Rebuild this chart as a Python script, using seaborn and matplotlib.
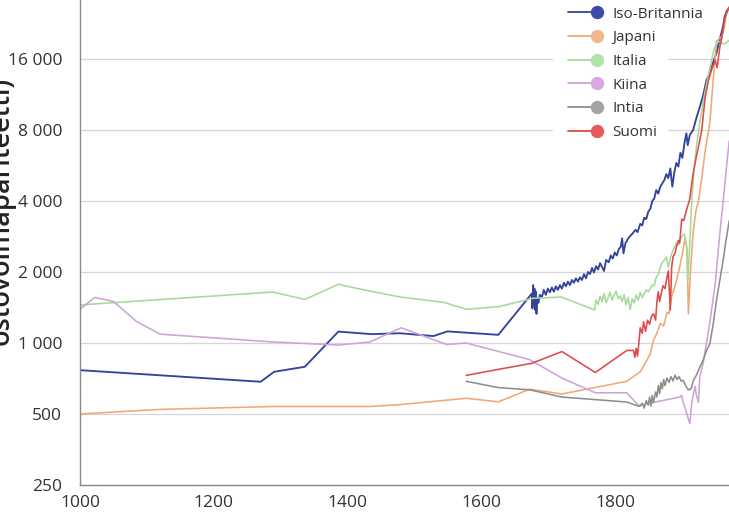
import numpy as np
import pandas as pd
import matplotlib
matplotlib.use("Agg")
import matplotlib.pyplot as plt
from matplotlib.lines import Line2D
from matplotlib.patches import Rectangle
from matplotlib.legend_handler import HandlerLine2D
import seaborn as sns

# ---------------- data ----------------
uk_years = [1000, 1270, 1290, 1336, 1386, 1436, 1478, 1528, 1549, 1625, 1675, 1676, 1677, 1678,
            1679, 1680, 1681, 1682, 1683, 1685, 1687, 1690, 1693, 1696, 1699, 1702, 1705, 1708,
            1711, 1714, 1717, 1720, 1723, 1726, 1729, 1732, 1735, 1738, 1741, 1744, 1747, 1750,
            1753, 1756, 1759, 1762, 1765, 1768, 1771, 1774, 1777, 1780, 1783, 1786, 1790, 1793,
            1796, 1799, 1802, 1805, 1808, 1810, 1812, 1815, 1820, 1825, 1830, 1833, 1837, 1840,
            1843, 1846, 1849, 1852, 1855, 1858, 1861, 1864, 1867, 1870, 1873, 1876, 1879, 1882,
            1885, 1888, 1891, 1894, 1897, 1900, 1903, 1906, 1908, 1911, 1916, 1921, 1926, 1931,
            1936, 1941, 1946, 1951, 1956, 1960, 1963, 1966, 1970]
uk_values = [767, 685, 755, 793, 1118, 1090, 1100, 1070, 1120, 1083, 1620, 1400, 1760, 1450,
             1700, 1380, 1650, 1330, 1550, 1480, 1600, 1560, 1680, 1600, 1700, 1640, 1720, 1650,
             1740, 1680, 1760, 1700, 1800, 1740, 1820, 1760, 1850, 1800, 1880, 1820, 1900, 1850,
             1960, 1880, 2000, 1960, 2080, 1990, 2120, 2050, 2180, 2100, 2020, 2250, 2200, 2350,
             2280, 2420, 2350, 2500, 2560, 2780, 2400, 2650, 2800, 2900, 3020, 2950, 3200, 3150,
             3400, 3350, 3600, 3700, 4000, 4100, 4450, 4300, 4600, 4750, 4900, 5200, 5000, 5500,
             4600, 5300, 5800, 5600, 6400, 6100, 7000, 7750, 6900, 7600, 8000, 9000, 10000, 11200,
             13000, 14000, 15500, 17000, 19500, 21500, 24000, 25500, 26500]

jp_years = [1000, 1120, 1288, 1433, 1478, 1577, 1625, 1672, 1720, 1817, 1837, 1847, 1852, 1857,
            1862, 1867, 1872, 1877, 1880, 1884, 1888, 1892, 1896, 1901, 1904, 1907, 1909, 1912,
            1916, 1920, 1924, 1929, 1934, 1941, 1946, 1951, 1955, 1959, 1963, 1966, 1970]
jp_values = [500, 523, 538, 538, 548, 583, 563, 637, 608, 688, 755, 845, 900, 1030,
             1100, 1210, 1180, 1350, 1330, 1570, 1700, 1880, 2100, 2470, 2800, 2500, 1330, 2000,
             2930, 3600, 4000, 5000, 6500, 8550, 13000, 19000, 19500, 20000, 22000, 25000, 26500]

it_years = [1000, 1288, 1336, 1386, 1418, 1478, 1543, 1577, 1625, 1677, 1719, 1769, 1771, 1774,
            1777, 1780, 1783, 1786, 1789, 1792, 1795, 1798, 1801, 1804, 1807, 1810, 1813, 1816,
            1819, 1822, 1825, 1828, 1831, 1834, 1837, 1840, 1843, 1846, 1849, 1852, 1855, 1858,
            1861, 1864, 1867, 1870, 1873, 1876, 1879, 1882, 1885, 1888, 1891, 1894, 1897, 1900,
            1903, 1905, 1907, 1908, 1910, 1912, 1914, 1917, 1921, 1926, 1931, 1936, 1941, 1946,
            1951, 1956, 1961, 1966, 1970]
it_values = [1450, 1645, 1530, 1774, 1694, 1567, 1488, 1390, 1425, 1547, 1567, 1380, 1520, 1460,
             1580, 1500, 1620, 1480, 1560, 1640, 1520, 1600, 1660, 1540, 1580, 1500, 1600, 1450,
             1560, 1385, 1540, 1480, 1600, 1520, 1640, 1560, 1620, 1680, 1650, 1700, 1760, 1750,
             1900, 1950, 2100, 2200, 2245, 2320, 2100, 2300, 2420, 2550, 2650, 2600, 2750, 2860,
             2900, 2700, 2500, 1850, 2300, 3000, 4000, 5200, 6800, 8600, 10500, 12500, 14500, 17000,
             18800, 19000, 18500, 18800, 19200]

cn_years = [1000, 1022, 1050, 1085, 1120, 1289, 1386, 1433, 1480, 1548, 1577, 1672, 1720, 1770,
            1817, 1834, 1837, 1896, 1899, 1901, 1905, 1911, 1914, 1919, 1921, 1924, 1926, 1931,
            1941, 1949, 1956, 1961, 1966, 1970]
cn_values = [1390, 1560, 1500, 1230, 1090, 1010, 980, 1010, 1160, 985, 1000, 850, 710, 615,
             615, 545, 545, 590, 600, 560, 520, 455, 560, 655, 600, 560, 720, 820,
             1220, 1780, 2920, 4000, 5600, 7200]

in_years = [1577, 1625, 1672, 1720, 1817, 1834, 1837, 1840, 1843, 1846, 1849, 1851, 1853, 1855,
            1857, 1860, 1862, 1864, 1866, 1868, 1870, 1872, 1874, 1877, 1880, 1883, 1886, 1889,
            1892, 1895, 1898, 1901, 1905, 1909, 1913, 1917, 1921, 1926, 1931, 1936, 1941, 1946,
            1951, 1956, 1961, 1965, 1970]
in_values = [688, 647, 633, 590, 562, 540, 540, 555, 530, 570, 545, 590, 540, 600,
             560, 620, 590, 660, 610, 680, 640, 700, 660, 710, 680, 720, 690, 730,
             700, 720, 690, 695, 660, 632, 640, 700, 730, 790, 845, 930, 990, 1200,
             1520, 1850, 2250, 2700, 3300]

fi_years = [1577, 1625, 1675, 1720, 1770, 1817, 1827, 1829, 1831, 1833, 1835, 1837, 1840, 1842,
            1845, 1848, 1851, 1854, 1857, 1860, 1862, 1864, 1866, 1868, 1871, 1874, 1877, 1879,
            1882, 1884, 1886, 1889, 1891, 1894, 1896, 1899, 1902, 1906, 1911, 1916, 1921, 1925,
            1929, 1934, 1939, 1944, 1949, 1952, 1956, 1959, 1963, 1966, 1970]
fi_values = [729, 773, 820, 920, 750, 930, 930, 870, 950, 880, 1000, 1160, 1100, 1230,
             1120, 1250, 1200, 1300, 1330, 1250, 1500, 1650, 1500, 1600, 1750, 1700, 1900, 2020,
             1380, 2100, 2320, 2400, 2550, 2720, 2650, 3350, 3300, 3650, 4070, 5200, 6200, 7000,
             8000, 11000, 13000, 14500, 15800, 14700, 18000, 19700, 23500, 25000, 26500]

countries = ["Iso-Britannia", "Japani", "Italia", "Kiina", "Intia", "Suomi"]
line_colors = ["#34449c", "#f0a877", "#a6da98", "#cfa2d8", "#8e8e8e", "#de4a4a"]
marker_colors = ["#3b4cab", "#f2b58e", "#b4e3aa", "#d7abe2", "#a3a3a3", "#e45a5a"]

y_ticks = [250, 500, 1000, 2000, 4000, 8000, 16000]
y_tick_labels = ["250", "500", "1 000", "2 000", "4 000", "8 000", "16 000"]
x_ticks = [1000, 1200, 1400, 1600, 1800]
y_label = "ostovoimapariteetti)"

# ---------------- build long table ----------------
series = [(uk_years, uk_values), (jp_years, jp_values), (it_years, it_values),
          (cn_years, cn_values), (in_years, in_values), (fi_years, fi_values)]
frames = []
for name, (yrs, vals) in zip(countries, series):
    frames.append(pd.DataFrame({"vuosi": yrs, "bkt": vals, "maa": name}))
df = pd.concat(frames, ignore_index=True)


class EndMarkerHandler(HandlerLine2D):
    """Legend handle: a line with a single marker at its right end."""
    def create_artists(self, legend, orig_handle, xdescent, ydescent, width, height,
                       fontsize, trans):
        artists = super().create_artists(legend, orig_handle, xdescent, ydescent,
                                         width, height, fontsize, trans)
        for a in artists:
            n = len(a.get_xdata())
            a.set_markevery([n - 1])
        return artists


# ---------------- figure ----------------
sns.set_theme(style="white")
plt.rcParams["font.family"] = ["Open Sans", "DejaVu Sans"]

W, H = 729, 531
fig = plt.figure(figsize=(W / 100, H / 100), dpi=100)
ax = fig.add_axes([80 / W, 46 / H, 1 - 80 / W, 1 - 46 / H])

ax.set_yscale("log", base=2)
ax.set_ylim(250, 250 * 2 ** (485 / 71))
ax.set_xlim(1000, 1000 + (729 - 80) / 0.6693)

ax.set_axisbelow(True)
ax.yaxis.grid(True, color="#d6d6d6", linewidth=0.9, zorder=0)
ax.xaxis.grid(False)

palette = dict(zip(countries, line_colors))
sns.lineplot(data=df, x="vuosi", y="bkt", hue="maa", hue_order=countries,
             palette=palette, estimator=None, linewidth=1.15, ax=ax, legend=False)
for l in ax.get_lines():
    if l.get_color() == "#34449c":
        l.set_linewidth(1.35)

ax.set_yticks(y_ticks)
ax.set_yticklabels(y_tick_labels)
ax.yaxis.set_minor_locator(matplotlib.ticker.NullLocator())
ax.set_xticks(x_ticks)
ax.set_xticklabels([str(v) for v in x_ticks])
ax.set_xlabel("")
ax.set_ylabel("")

for s in ["top", "right"]:
    ax.spines[s].set_visible(False)
for s in ["left", "bottom"]:
    ax.spines[s].set_color("#8a8a8a")
    ax.spines[s].set_linewidth(1.0)
ax.tick_params(axis="both", which="major", length=4.3, width=0.9, color="#8a8a8a",
               labelsize=12.5, labelcolor="#333333", pad=3)
ax.tick_params(axis="y", pad=8.5)

# white background behind the legend (hides gridlines there)
ax.add_patch(Rectangle((553 / W, 1 - 142 / H), (668 - 553) / W, 142 / H,
                       transform=fig.transFigure, facecolor="white", edgecolor="none",
                       zorder=1))

handles = []
for lc, mc in zip(line_colors, marker_colors):
    handles.append(Line2D([0, 1], [0, 0], color=lc, linewidth=1.3, marker="o",
                          markersize=8.6, markerfacecolor=mc, markeredgecolor=mc))
leg = ax.legend(handles, countries, loc="upper left",
                bbox_to_anchor=(563 / W, 1 - 6.5 / H), bbox_transform=fig.transFigure,
                frameon=False, numpoints=2, fontsize=11, handlelength=2.55,
                handletextpad=0.7, labelspacing=0.57, borderpad=0, borderaxespad=0,
                handler_map={Line2D: EndMarkerHandler()})
for t in leg.get_texts():
    t.set_color("#333333")
leg.set_zorder(5)

fig.text(16 / W, 1 - 211 / H, y_label, rotation=90, ha="right",
         va="center", fontsize=19.5, fontweight="semibold", color="#222222")

fig.savefig("out.png", dpi=100, facecolor="white")
